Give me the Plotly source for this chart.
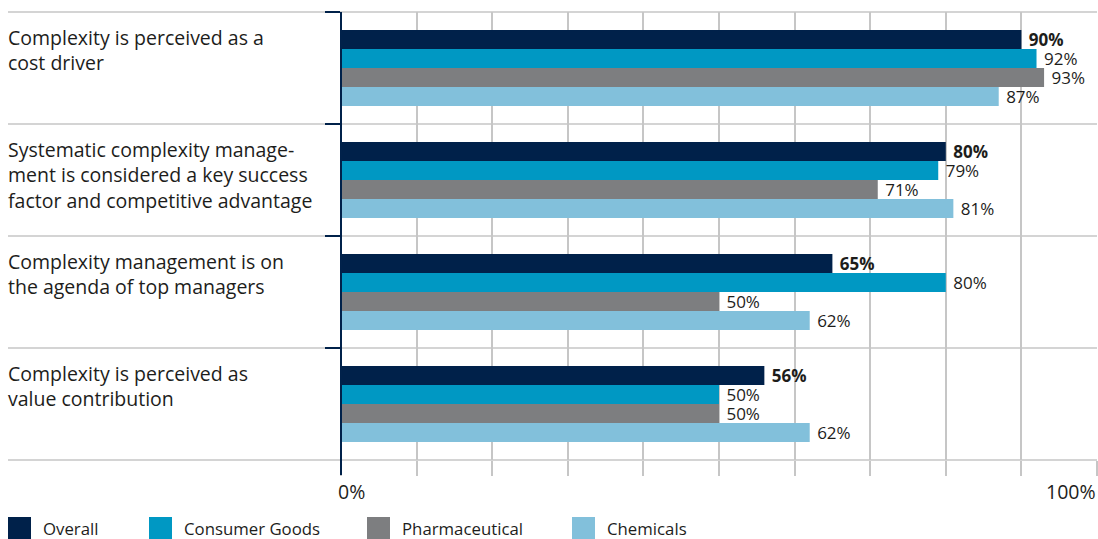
import plotly.graph_objects as go

# Survey statements (line breaks as laid out in the row labels)
categories = [
    "Complexity is perceived as a<br>cost driver",
    "Systematic complexity manage-<br>ment is considered a key success<br>factor and competitive advantage",
    "Complexity management is on<br>the agenda of top managers",
    "Complexity is perceived as<br>value contribution",
]

series_names = ["Overall", "Consumer Goods", "Pharmaceutical", "Chemicals"]
overall = [90, 80, 65, 56]
consumer_goods = [92, 79, 80, 50]
pharmaceutical = [93, 71, 50, 50]
chemicals = [87, 81, 62, 62]
series_values = [overall, consumer_goods, pharmaceutical, chemicals]

colors = ["#00214A", "#0098C3", "#7D7E80", "#82C0DB"]
x_tick_labels = {0: "0%", 100: "100%"}

FONT = "Open Sans"
TEXT_COLOR = "#1D1D1B"
NAVY = "#00214A"
GRID = "#C6C6C6"

W, H = 1098, 539
M_L, M_R, M_T, M_B = 341, 1, 12, 79
PLOT_W = W - M_L - M_R
PLOT_H = H - M_T - M_B


def px_to_paper_x(px):
    return (px - M_L) / PLOT_W


def px_to_paper_y(py):
    return (H - M_B - py) / PLOT_H


fig = go.Figure()
for i, (name, vals) in enumerate(zip(series_names, series_values)):
    label = "<b>\u00a0%{x}%</b>" if i == 0 else "\u00a0%{x}%"
    fig.add_trace(go.Bar(
        name=name,
        y=categories,
        x=vals,
        orientation="h",
        marker=dict(color=colors[i], line=dict(width=0)),
        texttemplate=label,
        textposition="outside",
        constraintext="none",
        textfont=dict(family=FONT, size=17, color=TEXT_COLOR),
        cliponaxis=False,
        hoverinfo="skip",
        showlegend=False,
    ))

shapes = []
annotations = []

# Row separators running across the label column and the plot area
for k in range(len(categories) + 1):
    py = M_T + k * PLOT_H / len(categories)
    shapes.append(dict(
        type="line", xref="paper", yref="paper",
        x0=px_to_paper_x(8), x1=1, y0=px_to_paper_y(py), y1=px_to_paper_y(py),
        line=dict(color=GRID, width=1.5), layer="below",
    ))

# Value axis line (extends slightly below the plot)
shapes.append(dict(
    type="line", xref="paper", yref="paper",
    x0=0, x1=0, y0=px_to_paper_y(475), y1=1,
    line=dict(color=NAVY, width=2), layer="above",
))

# Row labels, one annotation per line
LINE_STEP = 25.5
for cat in categories:
    for k, line in enumerate(cat.split("<br>")):
        annotations.append(dict(
            xref="paper", yref="y", x=px_to_paper_x(8), y=cat,
            xanchor="left", yanchor="middle", showarrow=False,
            xshift=-2, yshift=31 - LINE_STEP * k,
            text=line, align="left",
            font=dict(family=FONT, size=19.5, color=TEXT_COLOR),
        ))

# End labels of the value axis
for val, txt in x_tick_labels.items():
    annotations.append(dict(
        xref="x", yref="paper", x=val, y=px_to_paper_y(491),
        xanchor="left" if val == 0 else "right", yanchor="middle",
        xshift=-5 if val == 0 else 1,
        showarrow=False, text=txt,
        font=dict(family=FONT, size=19.5, color=TEXT_COLOR),
    ))

# Legend: swatches and names along the bottom
legend_x = [8, 149, 367, 572]
for name, color, lx in zip(series_names, colors, legend_x):
    shapes.append(dict(
        type="rect", xref="paper", yref="paper",
        x0=px_to_paper_x(lx), x1=px_to_paper_x(lx + 23),
        y0=px_to_paper_y(539), y1=px_to_paper_y(517),
        fillcolor=color, line=dict(width=0),
    ))
    annotations.append(dict(
        xref="paper", yref="paper", x=px_to_paper_x(lx + 35), y=px_to_paper_y(528),
        xanchor="left", yanchor="middle", showarrow=False, text=name,
        xshift=-2,
        font=dict(family=FONT, size=16.8, color=TEXT_COLOR),
    ))

fig.update_layout(
    width=W, height=H,
    margin=dict(l=M_L, r=M_R, t=M_T, b=M_B, pad=0),
    paper_bgcolor="white", plot_bgcolor="white",
    barmode="group", bargap=0.32, bargroupgap=0,
    font=dict(family=FONT, color=TEXT_COLOR),
    shapes=shapes, annotations=annotations,
    showlegend=False,
)
fig.update_xaxes(
    range=[0, 100], tickvals=list(range(0, 101, 10)),
    showgrid=True, gridcolor=GRID, gridwidth=1.5,
    ticks="outside", ticklen=15, tickcolor=GRID, tickwidth=1.5,
    showticklabels=False, zeroline=False, showline=False, fixedrange=True,
)
fig.update_yaxes(
    type="category", autorange="reversed",
    showgrid=False, ticks="outside", tickson="boundaries",
    ticklen=15, tickcolor=NAVY, tickwidth=2,
    showticklabels=False, zeroline=False, showline=False, fixedrange=True,
)

fig.write_html("out.html", config={"displayModeBar": False})
